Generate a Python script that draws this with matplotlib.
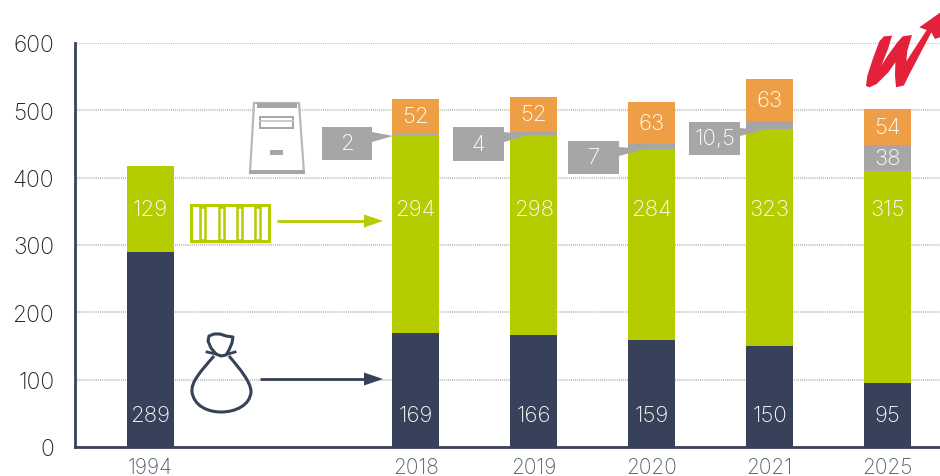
import matplotlib
matplotlib.use("Agg")
import matplotlib.pyplot as plt
from matplotlib.patches import Polygon, PathPatch, Rectangle
from matplotlib.path import Path
import numpy as np

# ── data ──────────────────────────────────────────────────────────────────────
years = ["1994", "2018", "2019", "2020", "2021", "2025"]
navy_vals = [289, 169, 166, 159, 150, 95]
green_vals = [129, 294, 298, 284, 323, 315]
gray_vals = [0, 2, 4, 7, 10.5, 38]
orange_vals = [0, 52, 52, 63, 63, 54]
y_ticks = [0, 100, 200, 300, 400, 500, 600]

NAVY = "#374159"
GREEN = "#b5cc00"
GRAY = "#a6a6a6"
ORANGE = "#ee9f45"
RED = "#e4213b"

plt.rcParams["font.family"] = ["Inter", "Lato", "DejaVu Sans"]
plt.rcParams["font.weight"] = "light"

fig = plt.figure(figsize=(9.4, 4.77), dpi=100)
W, H = 940, 477

# main axes: x=75..940 px, y=448..44 px
ax = fig.add_axes([75 / W, (H - 448) / H, (W - 75) / W, 404 / H])
xpos = np.array([0, 2.246, 3.246, 4.246, 5.246, 6.246])
bw = 0.4

bottom = np.zeros(len(years))
for vals, col in [(navy_vals, NAVY), (green_vals, GREEN), (gray_vals, GRAY), (orange_vals, ORANGE)]:
    ax.bar(xpos, vals, bw, bottom=bottom, color=col, zorder=3)
    # small slices are labelled by the callouts instead
    for x, b, v in zip(xpos, bottom, vals):
        if v >= 20:
            # navy and green labels sit on one line across all bars
            if col == NAVY:
                yy = 47
            elif col == GREEN:
                yy = 354
            else:
                yy = b + v / 2
            ax.text(x, yy, f"{v:g}", color="white", fontsize=16, ha="center", va="center", zorder=4)
    bottom += np.array(vals)

ax.set_xlim(-0.64, 6.69)
ax.set_ylim(0, 600)
ax.set_xticks(xpos, years)
ax.set_yticks(y_ticks)
ax.grid(axis="y", color="#c4c4c4", linestyle=(0, (0.5, 0.5)), linewidth=1.5, zorder=0)
ax.set_axisbelow(True)
ax.tick_params(axis="x", length=0, labelsize=15, labelcolor="#555b6b", pad=7)
ax.tick_params(axis="y", length=0, labelsize=16.5, labelcolor="#222222", pad=15)
for side in ["top", "right"]:
    ax.spines[side].set_visible(False)
for side in ["left", "bottom"]:
    ax.spines[side].set_color(NAVY)
    ax.spines[side].set_linewidth(2)

# ── overlay in pixel coordinates for the icons and callouts ───────────────────
ov = fig.add_axes([0, 0, 1, 1], facecolor="none")
ov.set_xlim(0, W)
ov.set_ylim(H, 0)
ov.axis("off")

# callouts: x0, x1, y0, y1, tip x, tip y, base y0, base y1
callouts = [
    (322, 372, 128, 161, 393, 137, 133, 143, gray_vals[1]),
    (453, 504, 128, 162, 528, 136, 133, 143, gray_vals[2]),
    (568, 619, 142, 175, 644, 150, 148, 157, gray_vals[3]),
    (689, 740, 123, 156, 764, 131, 129, 137, gray_vals[4]),
]
for x0, x1, y0, y1, tx, ty, b0, b1, v in callouts:
    ov.add_patch(Polygon([(x0, y0), (x1, y0), (x1, b0), (tx, ty), (x1, b1), (x1, y1), (x0, y1)],
                         closed=True, fc=GRAY, ec="none", zorder=5))
    ov.text((x0 + x1) / 2, (y0 + y1) / 2, f"{v:g}".replace(".", ","), color="white",
            fontsize=16, ha="center", va="center", zorder=6)

# arrows from the icons to the 2018 bar
for x0, y, col in [(277, 222, GREEN), (260, 380, NAVY)]:
    ov.plot([x0, 366], [y, y], color=col, lw=2, solid_capstyle="butt")
    ov.add_patch(Polygon([(364, y - 6.5), (383, y), (364, y + 6.5)], closed=True, fc=col, ec="none"))

# container icon
ov.add_patch(Rectangle((191, 205.5), 78, 36, fc="white", ec=GREEN, lw=2.2))
for sx in [199, 218, 236, 254]:
    ov.add_patch(Rectangle((sx + 1, 208), 5, 33, fc="white", ec=GREEN, lw=1.8))

# form / box icon
ov.add_patch(Polygon([(254, 104), (299, 104), (304, 174), (250, 174)], closed=True, fc="white",
                     ec="#b8b8b8", lw=1.6))
ov.add_patch(Rectangle((257, 104), 40, 5, fc=GRAY, ec="none"))
ov.add_patch(Rectangle((249, 171), 56, 4, fc=GRAY, ec="none"))
ov.add_patch(Rectangle((260, 118), 33, 11, fc="white", ec=GRAY, lw=1.4))
ov.plot([260, 293], [122, 122], color="#c4c4c4", lw=1.2)
ov.add_patch(Rectangle((270, 151), 13, 5, fc=GRAY, ec="none"))

# money bag icon
bag = Path(
    [(214, 357), (200, 373), (191, 383), (192, 393),
     (194, 407), (208, 413), (221, 413),
     (236, 413), (250, 406), (251, 393),
     (251, 383), (240, 370), (229, 357)],
    [Path.MOVETO, Path.CURVE4, Path.CURVE4, Path.CURVE4,
     Path.CURVE4, Path.CURVE4, Path.CURVE4,
     Path.CURVE4, Path.CURVE4, Path.CURVE4,
     Path.CURVE4, Path.CURVE4, Path.CURVE4],
)
ov.add_patch(PathPatch(bag, fc="none", ec=NAVY, lw=2.2))
neck = [(216, 355), (211, 349), (208, 342), (209, 337), (214, 335), (220, 335), (226, 337),
        (233, 338), (232, 344), (229, 351), (226, 356), (221, 357)]
ov.add_patch(Polygon(neck, closed=True, fc="none", ec=NAVY, lw=2.2, joinstyle="round"))
ov.plot([207, 216], [353, 355], color=NAVY, lw=2)
ov.plot([228, 235], [355, 353], color=NAVY, lw=2)

# logo, outline
logo = [(18, 246), (22, 215), (40, 160), (58, 112), (72, 97), (96, 95), (84, 135), (64, 185),
        (85, 152), (112, 115), (128, 97), (156, 93), (142, 140), (139, 172), (200, 78), (178, 70),
        (240, 26), (240, 100), (225, 105), (214, 85), (146, 215), (132, 244), (108, 250),
        (105, 215), (106, 175), (85, 205), (50, 240), (28, 250)]
ov.add_patch(Polygon([(860 + px / 3, 5 + py / 3) for px, py in logo], closed=True, fc=RED, ec="none", zorder=6))

fig.savefig("out.png", dpi=100)
